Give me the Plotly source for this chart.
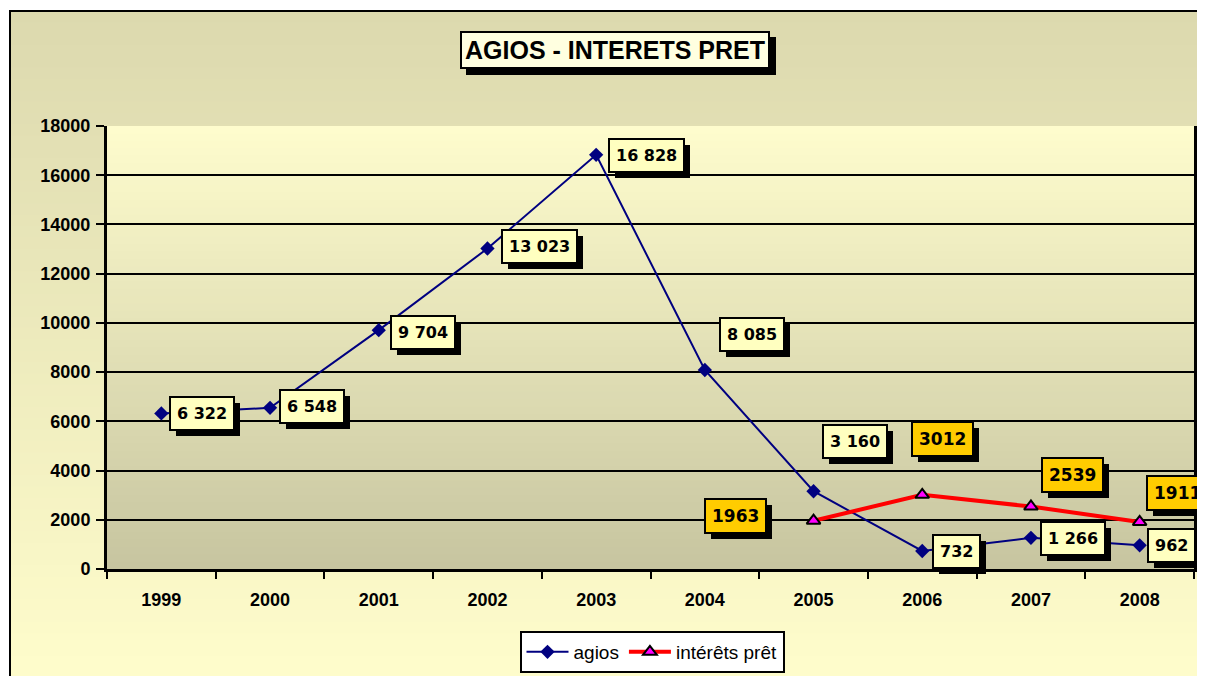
import plotly.graph_objects as go

years = ["1999", "2000", "2001", "2002", "2003", "2004", "2005", "2006", "2007", "2008"]
agios = [6322, 6548, 9704, 13023, 16828, 8085, 3160, 732, 1266, 962]
interets = [None, None, None, None, None, None, 1963, 3012, 2539, 1911]

# label offsets in pixels (dx, dy up) relative to each point
agios_offsets = [(41, 0), (42, 1), (44, -2), (52, 2), (50, -1), (47, 36), (41, 50), (34, -1), (42, -1), (32, 0)]
interets_offsets = [None, None, None, None, None, None, (-78, 5), (20, 56), (42, 32), (38, 29)]

# the page body has an 8px margin, so the figure starts at (8, 8) on screen
OFF = 8
W, H = 1205 - OFF, 676 - OFF
PX0, PX1, PY0, PY1 = 107, 1194, 126, 569   # plot area in screen pixels
L, R, T, B = PX0 - OFF, 1205 - PX1, PY0 - OFF, 676 - PY1
PW, PH = PX1 - PX0, PY1 - PY0


def px_x(p):
    return (p - PX0) / PW


def px_y(p):
    return (PY1 - p) / PH


def mix(c1, c2, t):
    return "rgb(%d,%d,%d)" % tuple(round(a + (b - a) * t) for a, b in zip(c1, c2))


shapes = []
# outer chart background gradient
n = 60
top, bot = 11, 690
for i in range(n):
    y0 = top + (bot - top) * i / n
    y1 = top + (bot - top) * (i + 1) / n + 1
    shapes.append(dict(type="rect", xref="paper", yref="paper", layer="below",
                       x0=px_x(10), x1=px_x(1220), y0=px_y(y1), y1=px_y(y0),
                       line_width=0, fillcolor=mix((220, 217, 174), (255, 253, 204), i / (n - 1))))
# plot area gradient
for i in range(n):
    y0 = PY0 + PH * i / n
    y1 = PY0 + PH * (i + 1) / n + 1
    shapes.append(dict(type="rect", xref="paper", yref="paper", layer="below",
                       x0=0, x1=1, y0=px_y(min(y1, PY1)), y1=px_y(y0),
                       line_width=0, fillcolor=mix((254, 252, 205), (199, 197, 160), i / (n - 1))))
# outer frame
shapes.append(dict(type="rect", xref="paper", yref="paper", layer="above",
                   x0=px_x(10), x1=px_x(1225), y0=px_y(700), y1=px_y(11),
                   line=dict(color="black", width=2), fillcolor="rgba(0,0,0,0)"))

fig = go.Figure()
fig.add_trace(go.Scatter(
    x=years, y=agios, name="agios", mode="lines+markers",
    line=dict(color="#000080", width=2),
    marker=dict(symbol="diamond", size=11, color="#000080"),
))
fig.add_trace(go.Scatter(
    x=years, y=interets, name="intérêts prêt", mode="lines+markers",
    line=dict(color="#FF0000", width=4),
    marker=dict(symbol="triangle-up", size=12, color="#FF00FF", line=dict(color="black", width=2)),
))

annotations = []
label_font = dict(family="DejaVu Sans", size=16, color="black", weight="bold")


def add_label(i, y, text, off, bg, size=16):
    dx, dy = off
    f = dict(label_font, size=size)
    # category axis: position the label by the category index
    annotations.append(dict(x=i, y=y, xref="x", yref="y", text=text, showarrow=False,
                            xshift=dx + 6, yshift=dy - 6,
                            bgcolor="black", bordercolor="black", borderwidth=1, borderpad=6,
                            font=dict(f, color="black")))
    annotations.append(dict(x=i, y=y, xref="x", yref="y", text=text, showarrow=False,
                            xshift=dx, yshift=dy,
                            bgcolor=bg, bordercolor="black", borderwidth=2, borderpad=6, font=f))


for i, (v, off) in enumerate(zip(agios, agios_offsets)):
    add_label(i, v, f"{v:,}".replace(",", " "), off, "#FFFFC0", size=16)
for i, (v, off) in enumerate(zip(interets, interets_offsets)):
    if v is not None:
        add_label(i, v, str(v), off, "#FFCC00", size=17)

# title box with shadow
title_font = dict(family="Liberation Sans Narrow, Arial Narrow, Liberation Sans", size=25, color="black", weight="bold")
annotations.append(dict(x=px_x(621), y=px_y(56), xref="paper", yref="paper", text="AGIOS - INTERETS PRET",
                        xanchor="center", yanchor="middle",
                        showarrow=False, bgcolor="black", bordercolor="black", borderwidth=2, borderpad=3,
                        font=title_font))
annotations.append(dict(x=px_x(615), y=px_y(50), xref="paper", yref="paper", text="AGIOS - INTERETS PRET",
                        xanchor="center", yanchor="middle",
                        showarrow=False, bgcolor="#FFFFE0", bordercolor="black", borderwidth=2, borderpad=3,
                        font=title_font))

tick_font = dict(family="Liberation Sans", size=18, color="black", weight="bold")

fig.update_layout(
    width=W, height=H,
    margin=dict(l=L, r=R, t=T, b=B, autoexpand=False),
    paper_bgcolor="white",
    plot_bgcolor="rgba(0,0,0,0)",
    shapes=shapes,
    annotations=annotations,
    showlegend=True,
    legend=dict(orientation="h", x=px_x(652), xanchor="center", y=px_y(631), yanchor="top",
                bgcolor="white", bordercolor="black", borderwidth=2,
                font=dict(family="Liberation Sans", size=19, color="black"),
                itemwidth=42, tracegroupgap=0),
    xaxis=dict(
        type="category", range=[-0.5, 9.5],
        showgrid=False, showline=True, linecolor="black", linewidth=3,
        ticks="outside", tickson="boundaries", ticklen=7, tickwidth=2, tickcolor="black",
        ticklabelstandoff=12,
        tickfont=tick_font,
    ),
    yaxis=dict(
        range=[0, 18000], dtick=2000, tickformat="d",
        showgrid=True, gridcolor="black", gridwidth=2,
        showline=True, linecolor="black", linewidth=3, mirror=True,
        zeroline=False,
        ticks="outside", ticklen=8, tickwidth=2, tickcolor="black",
        ticklabelstandoff=2,
        tickfont=tick_font,
    ),
)

fig.write_html("out.html")
